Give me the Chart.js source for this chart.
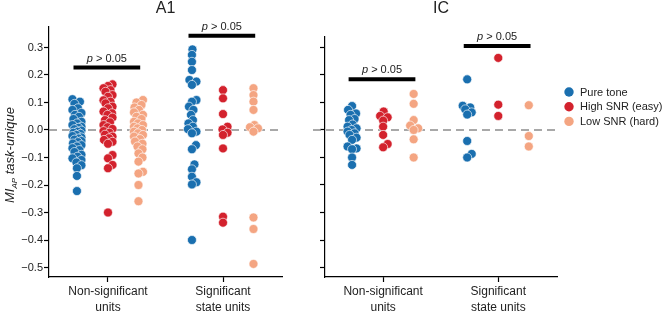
<!DOCTYPE html>
<html>
<head>
<meta charset="utf-8">
<script src="https://cdn.jsdelivr.net/npm/chart.js@4.4.1/dist/chart.umd.min.js"></script>
<style>
  body { margin: 0; background: #fff; width: 664px; height: 311px; position: relative; overflow: hidden; }
  canvas { position: absolute; top: 0; }
  #a1 { left: 0; }
  #ic { left: 290px; }
</style>
</head>
<body>
<canvas id="a1" width="290" height="311"></canvas>
<canvas id="ic" width="374" height="311"></canvas>
<script>
// categories (x tick labels, split in lines) and groups
const categories = [['Non-significant', 'units'], ['Significant', 'state units']];
const groups = ['Pure tone', 'High SNR (easy)', 'Low SNR (hard)'];
const groupColors = ['#1a6faf', '#d3222d', '#f4a582'];
const yTicks = [0.3, 0.2, 0.1, 0.0, -0.1, -0.2, -0.3, -0.4, -0.5];

// A1, non-significant units
const a1PureNs = [0.112, 0.103, 0.095, 0.079, 0.073, 0.062, 0.055, 0.048, 0.04, 0.03, 0.024, 0.018, 0.012, 0.008, 0.003, -0.002, -0.006, -0.01, -0.014, -0.018, -0.022, -0.027, -0.031, -0.035, -0.04, -0.044, -0.049, -0.055, -0.06, -0.066, -0.073, -0.08, -0.09, -0.097, -0.103, -0.109, -0.118, -0.128, -0.139, -0.167, -0.222];
const a1HighNs = [0.166, 0.16, 0.152, 0.145, 0.139, 0.127, 0.121, 0.108, 0.103, 0.097, 0.085, 0.079, 0.067, 0.061, 0.055, 0.045, 0.036, 0.028, 0.018, 0.01, 0.004, -0.004, -0.01, -0.017, -0.024, -0.03, -0.036, -0.043, -0.05, -0.091, -0.103, -0.127, -0.139, -0.3];
const a1LowNs = [0.109, 0.1, 0.091, 0.082, 0.073, 0.064, 0.055, 0.048, 0.04, 0.03, 0.024, 0.018, 0.012, 0.006, 0.0, -0.006, -0.012, -0.018, -0.024, -0.033, -0.042, -0.05, -0.06, -0.07, -0.085, -0.1, -0.115, -0.152, -0.158, -0.2, -0.259];
// A1, significant state units
const a1PureSig = [0.293, 0.273, 0.248, 0.218, 0.182, 0.176, 0.164, 0.109, 0.103, 0.085, 0.073, 0.055, 0.036, 0.024, 0.012, 0.003, -0.006, -0.012, -0.055, -0.07, -0.125, -0.143, -0.17, -0.19, -0.198, -0.4];
const a1HighSig = [0.145, 0.115, 0.058, 0.012, 0.002, -0.01, -0.018, -0.067, -0.315, -0.337];
const a1LowSig = [0.152, 0.127, 0.103, 0.073, 0.018, 0.01, 0.006, -0.006, -0.318, -0.36, -0.487];
// IC, non-significant units
const icPureNs = [0.087, 0.073, 0.06, 0.055, 0.04, 0.036, 0.02, 0.012, 0.006, 0.0, -0.006, -0.012, -0.018, -0.028, -0.036, -0.06, -0.067, -0.07, -0.1, -0.127];
const icHighNs = [0.067, 0.051, 0.046, 0.034, 0.012, -0.018, -0.051, -0.063];
const icLowNs = [0.131, 0.095, 0.036, 0.016, 0.006, 0.0, -0.034, -0.1];
// IC, significant state units
const icPureSig = [0.184, 0.088, 0.082, 0.075, 0.064, 0.056, -0.04, -0.087, -0.1];
const icHighSig = [0.262, 0.092, 0.051];
const icLowSig = [0.09, -0.022, -0.06];

// heights of the "p > 0.05" bars, per category
const a1BarLevels = [0.227, 0.343];
const icBarLevels = [0.184, 0.305];
const pText = '0.05';

const groupOffsets = [-0.27, 0, 0.265];
const PX_X = 115, PX_Y = 275; // approx px per unit, only used by the swarm layout

// small swarm layout: spread points a few px sideways so they overlap less
function swarm(values) {
  const order = values.map((v, i) => i).sort((a, b) => values[a] - values[b]);
  const placed = [];
  const out = new Array(values.length);
  const minD = 5.5, maxHalf = 4.5;
  for (const i of order) {
    const y = values[i] * PX_Y;
    let pick = null, bestX = 0, bestD = -1;
    for (let k = 0; ; k++) {
      const c = k === 0 ? 0 : (k % 2 ? 1 : -1) * Math.ceil(k / 2) * 0.5;
      if (Math.abs(c) > maxHalf) break;
      let d = Infinity;
      for (const p of placed) d = Math.min(d, Math.hypot(p.x - c, p.y - y));
      if (d >= minD) { pick = c; break; }
      if (d > bestD) { bestD = d; bestX = c; }
    }
    if (pick === null) pick = bestX;
    placed.push({ x: pick, y: y });
    out[i] = pick / PX_X;
  }
  return out;
}

function points(nsVals, sigVals, offset) {
  const out = [];
  [nsVals, sigVals].forEach((vals, c) => {
    const dx = swarm(vals);
    vals.forEach((v, i) => out.push({ x: c + offset + dx[i], y: v }));
  });
  return out;
}

function makeDatasets(byGroup, barLevels) {
  const ds = byGroup.map((g, gi) => ({
    type: 'scatter',
    label: groups[gi],
    data: points(g[0], g[1], groupOffsets[gi]),
    backgroundColor: groupColors[gi],
    borderColor: 'rgba(255,255,255,0.9)',
    borderWidth: 0.7,
    pointRadius: 4.5
  }));
  barLevels.forEach((lvl, c) => {
    ds.push({
      type: 'line',
      label: 'bar' + c,
      data: [{ x: c - 0.3, y: lvl }, { x: c + 0.28, y: lvl }],
      borderColor: '#000',
      borderWidth: 4,
      borderCapStyle: 'butt',
      pointRadius: 0
    });
  });
  return ds;
}

const FONT = '"Liberation Sans", Arial, sans-serif';

function panelPlugin(title, barLevels, dashStart) {
  return {
    id: 'panel' + title,
    beforeDatasetsDraw(chart) {
      const { ctx, chartArea, scales } = chart;
      const y0 = scales.y.getPixelForValue(0);
      ctx.save();
      ctx.strokeStyle = '#8c8c8c';
      ctx.lineWidth = 1.5;
      ctx.setLineDash([8, 5]);
      ctx.beginPath();
      ctx.moveTo(chartArea.left + dashStart, y0);
      ctx.lineTo(chartArea.right, y0);
      ctx.stroke();
      ctx.restore();
    },
    afterDatasetsDraw(chart) {
      const { ctx, chartArea, scales } = chart;
      ctx.save();
      ctx.fillStyle = '#222';
      ctx.font = '16px ' + FONT;
      ctx.textAlign = 'center';
      ctx.textBaseline = 'middle';
      ctx.fillText(title, (chartArea.left + chartArea.right) / 2, 9);
      // p > 0.05 labels
      ctx.textAlign = 'left';
      barLevels.forEach((lvl, c) => {
        const cx = scales.x.getPixelForValue(c - 0.01);
        const cy = scales.y.getPixelForValue(lvl) - 9;
        ctx.font = 'italic 11px ' + FONT;
        const w1 = ctx.measureText('p').width;
        ctx.font = '11px ' + FONT;
        const rest = ' > ' + pText;
        const w2 = ctx.measureText(rest).width;
        const x0 = cx - (w1 + w2) / 2;
        ctx.font = 'italic 11px ' + FONT;
        ctx.fillText('p', x0, cy);
        ctx.font = '11px ' + FONT;
        ctx.fillText(rest, x0 + w1, cy);
      });
      ctx.restore();
    }
  };
}

const yTitlePlugin = {
  id: 'ytitle',
  afterDraw(chart) {
    const ctx = chart.ctx;
    ctx.save();
    ctx.translate(14, 155);
    ctx.rotate(-Math.PI / 2);
    ctx.fillStyle = '#222';
    ctx.textBaseline = 'alphabetic';
    const parts = [['italic 13px ', 'MI', 0], ['italic 8px ', 'AP', 3], ['italic 13px ', ' task-unique', 0]];
    let total = 0;
    parts.forEach(p => { ctx.font = p[0] + FONT; total += ctx.measureText(p[1]).width; });
    let x = -total / 2;
    parts.forEach(p => {
      ctx.font = p[0] + FONT;
      ctx.fillText(p[1], x, p[2]);
      x += ctx.measureText(p[1]).width;
    });
    ctx.restore();
  }
};

const legendPlugin = {
  id: 'legendRight',
  afterDraw(chart) {
    const ctx = chart.ctx;
    ctx.save();
    groups.forEach((g, i) => {
      const y = 92 + i * 14.7;
      ctx.beginPath();
      ctx.arc(279, y, 4.7, 0, Math.PI * 2);
      ctx.fillStyle = groupColors[i];
      ctx.fill();
      ctx.fillStyle = '#222';
      ctx.font = '11px ' + FONT;
      ctx.textBaseline = 'middle';
      ctx.fillText(g, 290, y + 0.5);
    });
    ctx.restore();
  }
};

function makeOptions(xMin, xMax, yMax, yWidth, showYLabels, padTop, padRight) {
  const axisGrid = { drawOnChartArea: false, tickLength: 5, tickColor: '#000', tickWidth: 1.2 };
  const axisBorder = { color: '#000', width: 1.2 };
  return {
    responsive: false,
    animation: false,
    layout: { padding: { top: padTop, right: padRight, left: 0, bottom: 0 } },
    plugins: { legend: { display: false }, tooltip: { enabled: false } },
    scales: {
      x: {
        type: 'linear', min: xMin, max: xMax,
        afterBuildTicks: s => { s.ticks = [{ value: 0 }, { value: 1 }]; },
        afterFit: s => { s.height = 34; },
        ticks: {
          callback: v => categories[v],
          font: { family: FONT, size: 12, lineHeight: 1.3 },
          color: '#222', padding: 2, maxRotation: 0, autoSkip: false
        },
        grid: axisGrid, border: axisBorder
      },
      y: {
        type: 'linear', min: -0.5345, max: yMax,
        afterBuildTicks: s => { s.ticks = yTicks.map(v => ({ value: v })); },
        afterFit: s => { s.width = yWidth; },
        ticks: {
          display: showYLabels,
          callback: v => (v < 0 ? '\u2212' : '') + Math.abs(v).toFixed(1),
          font: { family: FONT, size: 11 }, color: '#222', padding: 1
        },
        grid: axisGrid, border: axisBorder
      }
    }
  };
}

new Chart(document.getElementById('a1'), {
  type: 'scatter',
  data: { datasets: makeDatasets([[a1PureNs, a1PureSig], [a1HighNs, a1HighSig], [a1LowNs, a1LowSig]], a1BarLevels) },
  options: makeOptions(-0.513, 1.513, 0.3745, 49, true, 27, 8),
  plugins: [panelPlugin('A1', a1BarLevels, 0), yTitlePlugin]
});

new Chart(document.getElementById('ic'), {
  type: 'scatter',
  data: { datasets: makeDatasets([[icPureNs, icPureSig], [icHighNs, icHighSig], [icLowNs, icLowSig]], icBarLevels) },
  options: makeOptions(-0.505, 1.51, 0.338, 35, false, 37, 107),
  plugins: [panelPlugin('IC', icBarLevels, -12), legendPlugin]
});
</script>
</body>
</html>
